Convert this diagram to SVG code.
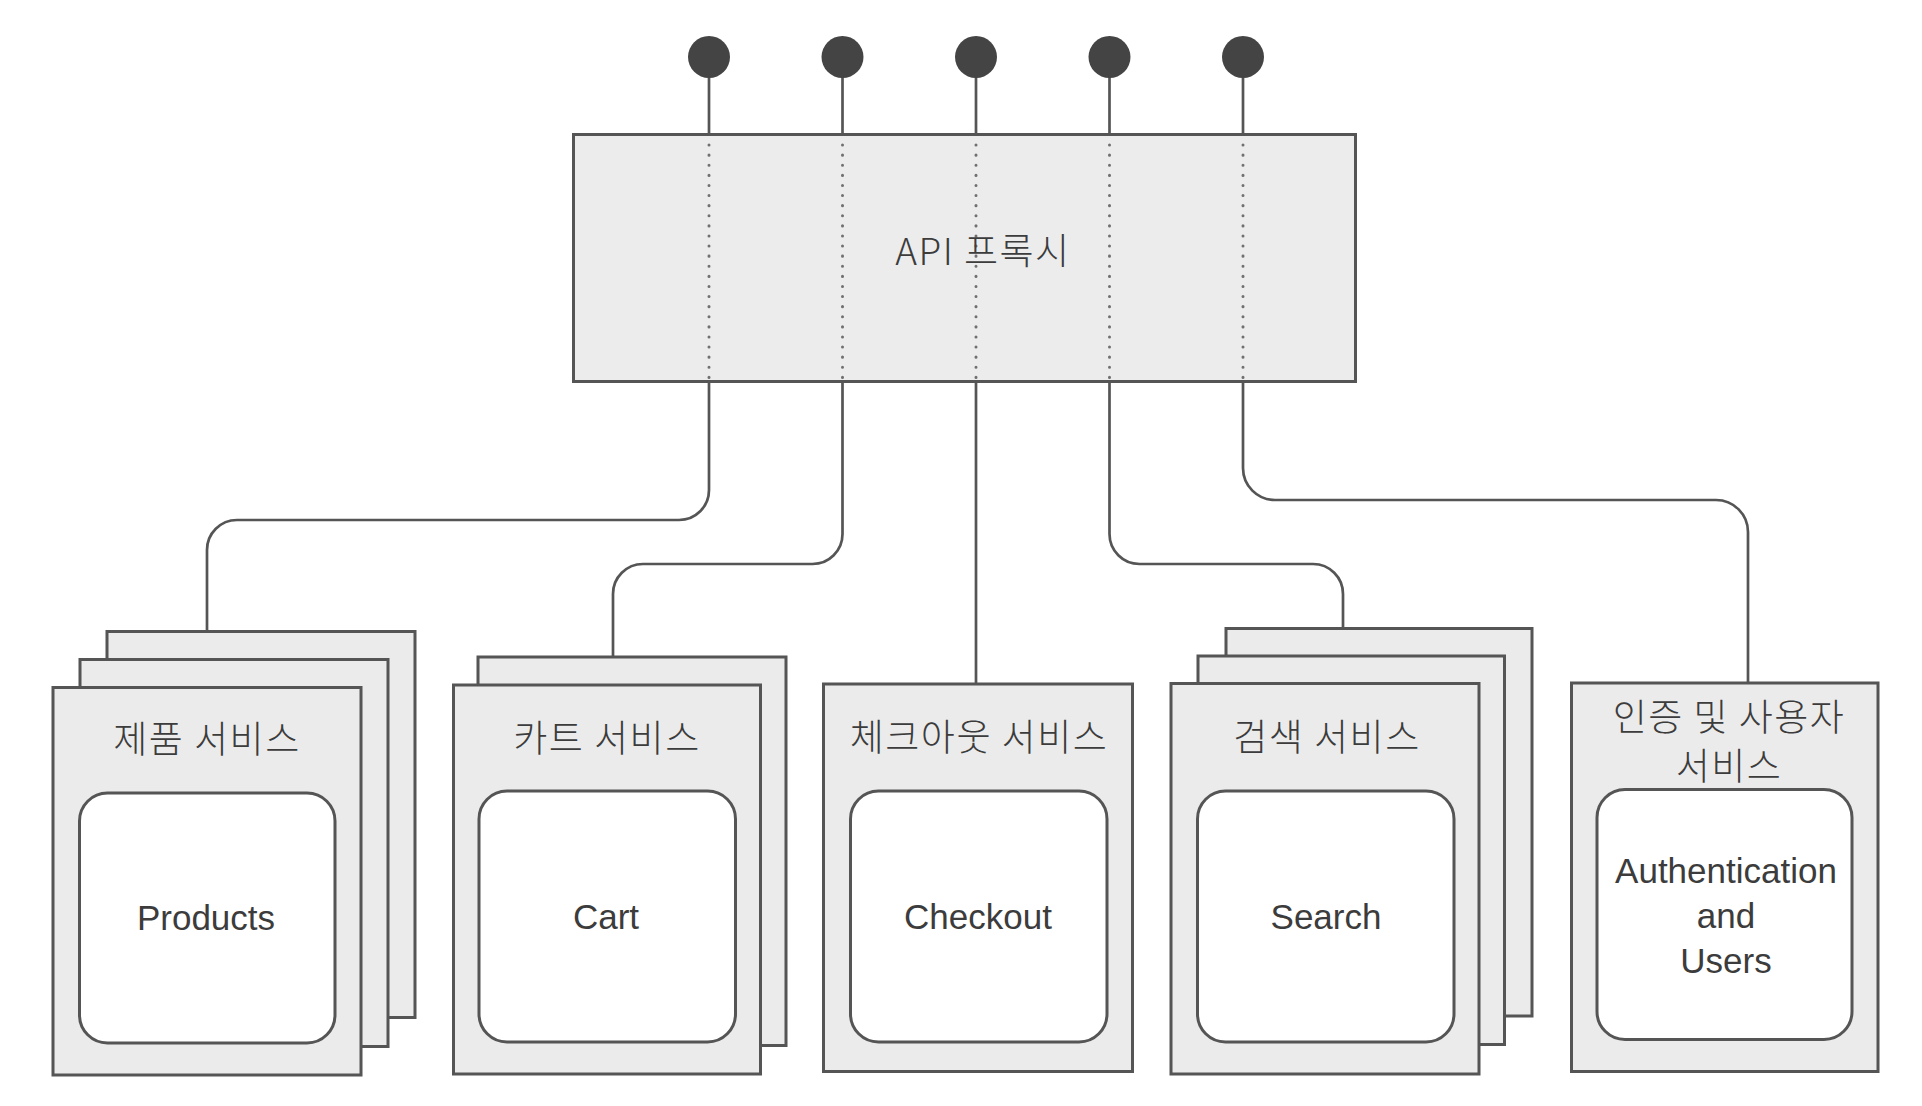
<svg xmlns="http://www.w3.org/2000/svg" width="1922" height="1106" viewBox="0 0 1922 1106">
<style>
.card{fill:#ebebeb;stroke:#555;stroke-width:3}
.inner{fill:#fff;stroke:#555;stroke-width:3}
.proxy{fill:#ececec;stroke:#555;stroke-width:3}
.conn{fill:none;stroke:#555;stroke-width:2.7}
.dotted{fill:none;stroke:#707070;stroke-width:3;stroke-dasharray:0.1 10;stroke-linecap:round}
.dot{fill:#444}
.ko{font-family:"Noto Sans CJK KR","Liberation Sans",sans-serif;font-size:37px;font-weight:300;letter-spacing:1.5px;fill:#3c3c3c;text-anchor:middle}
.en{font-family:"Liberation Sans","Noto Sans",sans-serif;font-size:35px;fill:#3c3c3c;text-anchor:middle}
</style>
<rect width="1922" height="1106" fill="#fff"/>
<g id="connectors">
<line class="conn" x1="709" y1="57" x2="709" y2="134.5"/>
<line class="conn" x1="842.5" y1="57" x2="842.5" y2="134.5"/>
<line class="conn" x1="976" y1="57" x2="976" y2="134.5"/>
<line class="conn" x1="1109.5" y1="57" x2="1109.5" y2="134.5"/>
<line class="conn" x1="1243" y1="57" x2="1243" y2="134.5"/>
<path class="conn" d="M709 381.5 V490 A30 30 0 0 1 679 520 H237 A30 30 0 0 0 207 550 V631.5"/>
<path class="conn" d="M842.5 381.5 V534 A30 30 0 0 1 812.5 564 H643 A30 30 0 0 0 613 594 V657"/>
<path class="conn" d="M976 381.5 V684"/>
<path class="conn" d="M1109.5 381.5 V534 A30 30 0 0 0 1139.5 564 H1313 A30 30 0 0 1 1343 594 V628.5"/>
<path class="conn" d="M1243 381.5 V468 A32 32 0 0 0 1275 500 H1716 A32 32 0 0 1 1748 532 V683"/>
</g>
<g id="api-proxy">
<rect class="proxy" x="573.5" y="134.5" width="782" height="247"/>
<line class="dotted" x1="709" y1="145" x2="709" y2="378"/>
<line class="dotted" x1="842.5" y1="145" x2="842.5" y2="378"/>
<line class="dotted" x1="976" y1="145" x2="976" y2="378"/>
<line class="dotted" x1="1109.5" y1="145" x2="1109.5" y2="378"/>
<line class="dotted" x1="1243" y1="145" x2="1243" y2="378"/>
<text class="ko" x="983" y="265">API 프록시</text>
</g>
<g id="endpoints">
<circle class="dot" cx="709" cy="57" r="21"/>
<circle class="dot" cx="842.5" cy="57" r="21"/>
<circle class="dot" cx="976" cy="57" r="21"/>
<circle class="dot" cx="1109.5" cy="57" r="21"/>
<circle class="dot" cx="1243" cy="57" r="21"/>
</g>
<g id="products-service">
<rect class="card" x="107" y="631.5" width="308" height="386"/>
<rect class="card" x="80" y="659.5" width="308" height="387"/>
<rect class="card" x="53" y="687.5" width="308" height="387.5"/>
<rect class="inner" x="79.5" y="793" width="255.5" height="250" rx="28"/>
<text class="ko" x="207" y="753">제품 서비스</text>
<text class="en" x="206" y="930">Products</text>
</g>
<g id="cart-service">
<rect class="card" x="478" y="657" width="308" height="388.5"/>
<rect class="card" x="453.5" y="685" width="307" height="389"/>
<rect class="inner" x="479" y="791" width="256.5" height="251" rx="28"/>
<text class="ko" x="607" y="752">카트 서비스</text>
<text class="en" x="606" y="929">Cart</text>
</g>
<g id="checkout-service">
<rect class="card" x="823.5" y="684" width="309" height="387.5"/>
<rect class="inner" x="850.5" y="791" width="256.5" height="251" rx="28"/>
<text class="ko" x="979" y="751">체크아웃 서비스</text>
<text class="en" x="978" y="929">Checkout</text>
</g>
<g id="search-service">
<rect class="card" x="1226" y="628.5" width="306" height="387.5"/>
<rect class="card" x="1198" y="656" width="306.5" height="388.5"/>
<rect class="card" x="1171" y="683.5" width="308" height="390.5"/>
<rect class="inner" x="1197.5" y="791" width="256.5" height="251" rx="28"/>
<text class="ko" x="1327" y="751">검색 서비스</text>
<text class="en" x="1326" y="929">Search</text>
</g>
<g id="auth-service">
<rect class="card" x="1571.5" y="683" width="306.5" height="388.5"/>
<rect class="inner" x="1597" y="789.5" width="255" height="250" rx="28"/>
<text class="ko" x="1729" y="731">인증 및 사용자</text>
<text class="ko" x="1729" y="780">서비스</text>
<text class="en" x="1726" y="883">Authentication</text>
<text class="en" x="1726" y="928">and</text>
<text class="en" x="1726" y="973">Users</text>
</g>
</svg>
